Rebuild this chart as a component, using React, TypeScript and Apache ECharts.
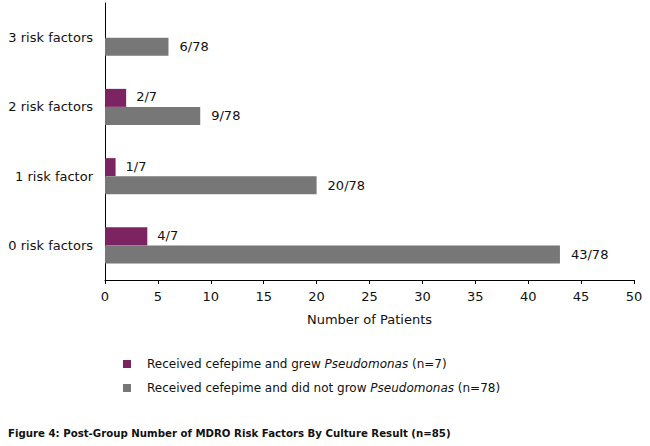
import React, { useEffect, useRef } from "react";
import * as echarts from "echarts";

const categories = ["0 risk factors", "1 risk factor", "2 risk factors", "3 risk factors"];
const grewValues = [4, 1, 2, null];
const grewLabels = ["4/7", "1/7", "2/7", ""];
const notGrewValues = [43, 20, 9, 6];
const notGrewLabels = ["43/78", "20/78", "9/78", "6/78"];
const xTicks = { min: 0, max: 50, interval: 5 };
const seriesNames = [
  "Received cefepime and grew Pseudomonas (n=7)",
  "Received cefepime and did not grow Pseudomonas (n=78)",
];
const caption = "Figure 4: Post-Group Number of MDRO Risk Factors By Culture Result (n=85)";

const FONT = "DejaVu Sans";

export default function App() {
  const ref = useRef<HTMLDivElement>(null);
  useEffect(() => {
    if (!ref.current) return;
    document.body.style.margin = "0";
    const chart = echarts.init(ref.current, null, { renderer: "svg" });
    chart.setOption({
      animation: false,
      textStyle: { fontFamily: FONT },
      title: {
        text: caption,
        left: 8,
        top: 428,
        padding: 0,
        textStyle: { fontFamily: FONT, fontSize: 10.2, fontWeight: "bold", color: "#111" },
      },
      grid: { left: 105, right: 16, top: 3, bottom: 166 },
      legend: {
        orient: "vertical",
        left: 118,
        top: 353,
        icon: "rect",
        itemWidth: 8,
        itemHeight: 8,
        itemGap: 12,
        data: seriesNames,
        formatter: (name: string) => {
          const parts = name.split("Pseudomonas");
          return `{n|${parts[0]}}{i|Pseudomonas}{n|${parts[1]}}`;
        },
        textStyle: {
          fontFamily: FONT,
          fontSize: 12,
          color: "#111",
          padding: [0, 0, 0, 11],
          rich: {
            n: { fontFamily: FONT, fontSize: 12, color: "#111" },
            i: { fontFamily: FONT, fontSize: 12, color: "#111", fontStyle: "italic" },
          },
        },
      },
      xAxis: {
        type: "value",
        min: xTicks.min,
        max: xTicks.max,
        interval: xTicks.interval,
        name: "Number of Patients",
        nameLocation: "middle",
        nameGap: 33,
        nameTextStyle: { fontFamily: FONT, fontSize: 13, color: "#111" },
        axisLine: { show: true, lineStyle: { color: "#000", width: 1 } },
        axisTick: { show: true, length: 4, inside: false, lineStyle: { color: "#000" } },
        splitLine: { show: false },
        axisLabel: { fontFamily: FONT, fontSize: 13, color: "#111", margin: 10 },
      },
      yAxis: {
        type: "category",
        data: categories,
        axisLine: { show: true, lineStyle: { color: "#000", width: 1 } },
        axisTick: { show: false },
        axisLabel: { fontFamily: FONT, fontSize: 13, color: "#111", margin: 12 },
      },
      series: [
        {
          name: seriesNames[0],
          type: "bar",
          data: grewValues,
          itemStyle: { color: "#7b2461" },
          barGap: "0%",
          barCategoryGap: "48%",
          label: {
            show: true,
            position: "right",
            distance: 10,
            fontFamily: FONT,
            fontSize: 13,
            color: "#111",
            offset: [0, -1],
            formatter: (p: any) => grewLabels[p.dataIndex],
          },
        },
        {
          name: seriesNames[1],
          type: "bar",
          data: notGrewValues,
          itemStyle: { color: "#777777" },
          barGap: "0%",
          barCategoryGap: "48%",
          label: {
            show: true,
            position: "right",
            distance: 11,
            fontFamily: FONT,
            fontSize: 13,
            color: "#111",
            formatter: (p: any) => notGrewLabels[p.dataIndex],
          },
        },
      ],
    });
    return () => chart.dispose();
  }, []);
  return <div ref={ref} style={{ width: 650, height: 446 }} />;
}
